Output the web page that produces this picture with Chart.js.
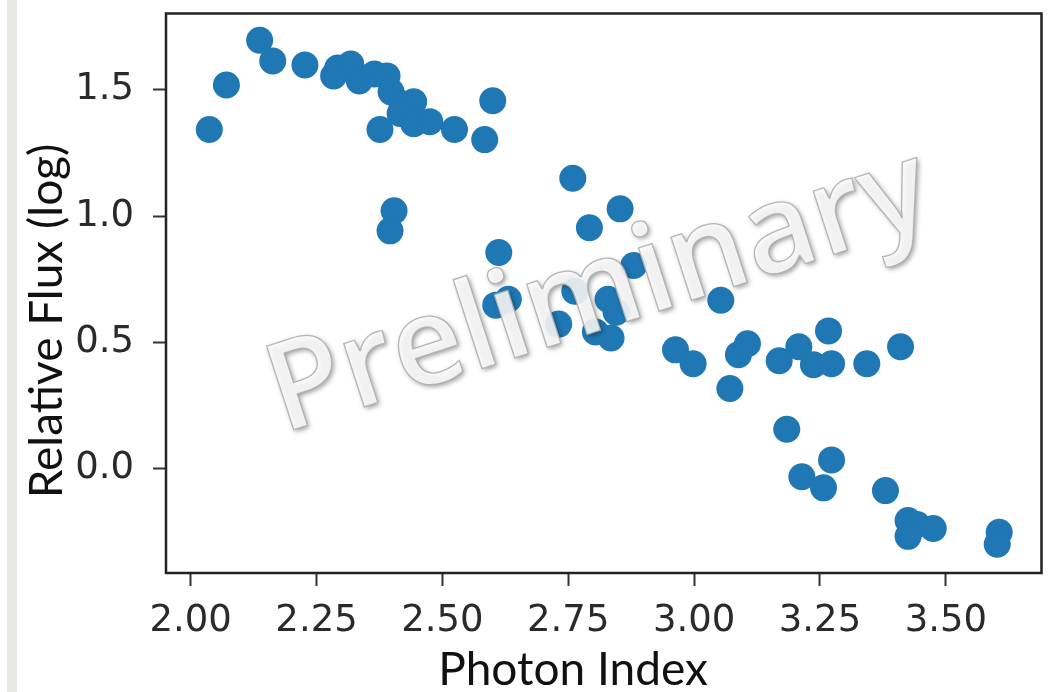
<!DOCTYPE html>
<html>
<head>
<meta charset="utf-8">
<script src="https://cdn.jsdelivr.net/npm/chart.js@4.4.1/dist/chart.umd.min.js"></script>
<style>
  html, body { margin: 0; padding: 0; background: #ffffff; }
  #wrap { position: relative; width: 1055px; height: 692px; }
  #strip { position: absolute; left: 7px; top: 0; width: 10px; height: 692px; background: #e7e8e3; }
  #chart { position: absolute; left: 0; top: 0; }
</style>
</head>
<body>
<div id="wrap">
  <div id="strip"></div>
  <canvas id="chart" width="1055" height="692"></canvas>
</div>
<script>
// values
const photonIndex = [
  2.037, 2.071, 2.137, 2.163, 2.227, 2.284, 2.292, 2.318, 2.335, 2.365,
  2.390, 2.398, 2.420, 2.443, 2.416, 2.376, 2.443, 2.475, 2.524, 2.584,
  2.600, 2.404, 2.396, 2.759, 2.853, 2.792, 2.612, 2.880, 2.606, 2.631,
  2.731, 2.763, 2.829, 2.845, 2.804, 2.835, 3.053, 2.963, 2.998, 3.071,
  3.088, 3.106, 3.169, 3.208, 3.237, 3.273, 3.267, 3.343, 3.410, 3.184,
  3.273, 3.214, 3.257, 3.380, 3.425, 3.443, 3.425, 3.475, 3.606, 3.602
];
const relativeFlux = [
  1.343, 1.519, 1.696, 1.614, 1.598, 1.555, 1.586, 1.602, 1.535, 1.563,
  1.555, 1.492, 1.445, 1.453, 1.406, 1.343, 1.366, 1.374, 1.343, 1.303,
  1.457, 1.021, 0.942, 1.150, 1.029, 0.954, 0.856, 0.805, 0.648, 0.671,
  0.573, 0.703, 0.671, 0.620, 0.542, 0.518, 0.667, 0.471, 0.416, 0.318,
  0.452, 0.495, 0.428, 0.483, 0.412, 0.416, 0.546, 0.416, 0.483, 0.157,
  0.035, -0.031, -0.075, -0.086, -0.204, -0.220, -0.267, -0.236, -0.251, -0.298
];
const xTicks = [2.00, 2.25, 2.50, 2.75, 3.00, 3.25, 3.50];
const yTicks = [0.0, 0.5, 1.0, 1.5];
const xTitle = "Photon Index";
const yTitle = "Relative Flux (log)";
const watermark = "Preliminary";

const tickFont = { family: "DejaVu Sans", size: 37 };
const labelFont = "46px Lato";

// frame on all four sides, drawn over the dots like matplotlib spines
const framePlugin = {
  id: "frame",
  afterDatasetsDraw(chart) {
    const { ctx, chartArea: a } = chart;
    ctx.save();
    ctx.strokeStyle = "#222";
    ctx.lineWidth = 2.5;
    ctx.strokeRect(a.left, a.top, a.right - a.left, a.bottom - a.top);
    ctx.restore();
  }
};

// axis titles and the embossed watermark
const textPlugin = {
  id: "texts",
  afterDraw(chart) {
    const ctx = chart.ctx;
    ctx.save();
    ctx.fillStyle = "#111";
    ctx.font = labelFont;
    ctx.textAlign = "center";
    ctx.textBaseline = "alphabetic";
    ctx.fillText(xTitle, 573, 685);
    ctx.save();
    ctx.translate(62, 321);
    ctx.rotate(-Math.PI / 2);
    ctx.fillText(yTitle, 0, 0);
    ctx.restore();

    ctx.translate(610, 327);
    ctx.rotate(-18 * Math.PI / 180);
    ctx.font = "600 123px 'Open Sans'";
    ctx.shadowColor = "rgba(0,0,0,0.45)";
    ctx.shadowBlur = 5;
    ctx.shadowOffsetX = 2;
    ctx.shadowOffsetY = 2;
    ctx.fillStyle = "rgba(253,253,253,0.88)";
    ctx.fillText(watermark, 0, 0);
    ctx.shadowColor = "transparent";
    ctx.strokeStyle = "rgba(175,175,175,0.9)";
    ctx.lineWidth = 1.3;
    ctx.strokeText(watermark, 0, 0);
    ctx.restore();
  }
};

new Chart(document.getElementById("chart"), {
  type: "scatter",
  data: {
    datasets: [
      {
        data: photonIndex.map((x, i) => ({ x: x, y: relativeFlux[i] })),
        backgroundColor: "#1f77b4",
        borderWidth: 0,
        pointRadius: 13.5,
        pointHoverRadius: 13.5,
      },
    ],
  },
  options: {
    responsive: false,
    animation: false,
    devicePixelRatio: 1,
    layout: { padding: { top: 9, right: 2, left: 0, bottom: 0 } },
    plugins: { legend: { display: false }, tooltip: { enabled: false } },
    scales: {
      x: {
        type: "linear",
        min: 1.951,
        max: 3.690,
        afterBuildTicks: (s) => { s.ticks = xTicks.map((v) => ({ value: v })); },
        afterFit: (s) => {
          s.height = 119;
          s.paddingLeft = 0;
          s.paddingRight = 0;
        },
        ticks: {
          font: tickFont,
          color: "#2a2a2a",
          padding: 13,
          maxRotation: 0,
          callback: (v) => v.toFixed(2),
        },
        grid: { drawOnChartArea: false, tickLength: 13, tickWidth: 2, tickColor: "#333" },
        border: { display: false },
      },
      y: {
        type: "linear",
        min: -0.412,
        max: 1.802,
        afterBuildTicks: (s) => { s.ticks = yTicks.map((v) => ({ value: v })); },
        afterFit: (s) => {
          s.width = 166;
          s.paddingTop = 0;
          s.paddingBottom = 0;
        },
        ticks: {
          font: tickFont,
          color: "#2a2a2a",
          padding: 19,
          callback: (v) => v.toFixed(1),
        },
        grid: { drawOnChartArea: false, tickLength: 13, tickWidth: 2, tickColor: "#333" },
        border: { display: false },
      },
    },
  },
  plugins: [framePlugin, textPlugin],
});
</script>
</body>
</html>
